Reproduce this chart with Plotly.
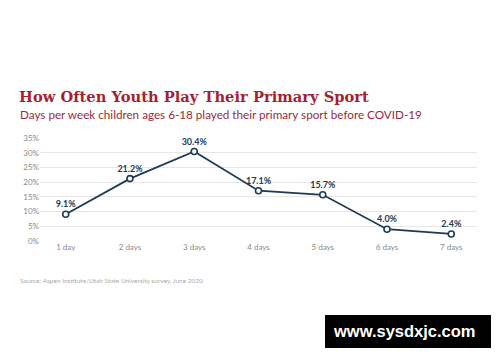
import plotly.graph_objects as go

categories = ["1 day", "2 days", "3 days", "4 days", "5 days", "6 days", "7 days"]
values = [9.1, 21.2, 30.4, 17.1, 15.7, 4.0, 2.4]
value_labels = ["9.1%", "21.2%", "30.4%", "17.1%", "15.7%", "4.0%", "2.4%"]
y_ticks = [0, 5, 10, 15, 20, 25, 30, 35]
y_tick_labels = ["0%", "5%", "10%", "15%", "20%", "25%", "30%", "35%"]

navy = "#1e3a56"
red = "#a81f33"

# page has an 8px body margin; figure sized so it fits the 500x362 window
OFF = 8
PL, PR, PT, PB = 40, 477, 138, 241  # plot area in reference pixels
W, H = 500 - OFF, 362 - OFF
pw, ph = PR - PL, PB - PT


def px(x):
    return (x - PL) / pw


def py(y):
    return (PB - y) / ph


fig = go.Figure()
fig.add_trace(go.Scatter(
    x=list(range(len(categories))), y=values,
    mode="lines+markers+text",
    line=dict(color=navy, width=1.8),
    marker=dict(symbol="circle", size=6, color="white", line=dict(color=navy, width=1.6)),
    text=value_labels, textposition="top center",
    textfont=dict(family="Lato", size=9, color=navy, weight="bold"),
    cliponaxis=False, showlegend=False, hoverinfo="skip",
))

fig.update_layout(
    width=W, height=H,
    margin=dict(l=PL - OFF, r=W - (PR - OFF), t=PT - OFF, b=H - (PB - OFF), autoexpand=False),
    paper_bgcolor="white", plot_bgcolor="white",
    xaxis=dict(
        range=[-0.4, 6.4], tickmode="array",
        tickvals=list(range(len(categories))), ticktext=categories,
        showgrid=False, zeroline=False, showline=False,
        tickfont=dict(family="Lato", size=8, color="#8a8a8a"), ticks="",
    ),
    yaxis=dict(
        range=[0, 35], tickmode="array", tickvals=y_ticks, ticktext=y_tick_labels,
        showgrid=True, gridcolor="#e6e6e6", gridwidth=1,
        zeroline=False, showline=False, automargin=False,
        tickfont=dict(family="Lato", size=8, color="#8a8a8a"), ticks="",
    ),
    annotations=[
        dict(text="How Often Youth Play Their Primary Sport", xref="paper", yref="paper",
             x=px(17), y=py(96), xanchor="left", yanchor="middle",
             showarrow=False, font=dict(family="DejaVu Serif", size=14.7, color=red, weight="bold")),
        dict(text="Days per week children ages 6-18 played their primary sport before COVID-19",
             xref="paper", yref="paper",
             x=px(18), y=py(114), xanchor="left", yanchor="middle",
             showarrow=False, font=dict(family="Lato", size=11.7, color="#9a2a3a")),
        dict(text="Source: Aspen Institute/Utah State University survey, June 2020",
             xref="paper", yref="paper",
             x=px(18), y=py(280), xanchor="left", yanchor="middle",
             showarrow=False, font=dict(family="Lato", size=6.5, color="#aaaaaa")),
        dict(text="<b>www.sysdxjc.com</b>", xref="paper", yref="paper",
             x=px(404), y=py(331), xanchor="center", yanchor="middle",
             showarrow=False, font=dict(family="Liberation Sans", size=16.5, color="white")),
    ],
    shapes=[
        dict(type="rect", xref="paper", yref="paper",
             x0=px(325), x1=px(491), y0=py(348), y1=py(315),
             fillcolor="black", line=dict(width=0), layer="below"),
    ],
)

fig.write_html("out.html")
